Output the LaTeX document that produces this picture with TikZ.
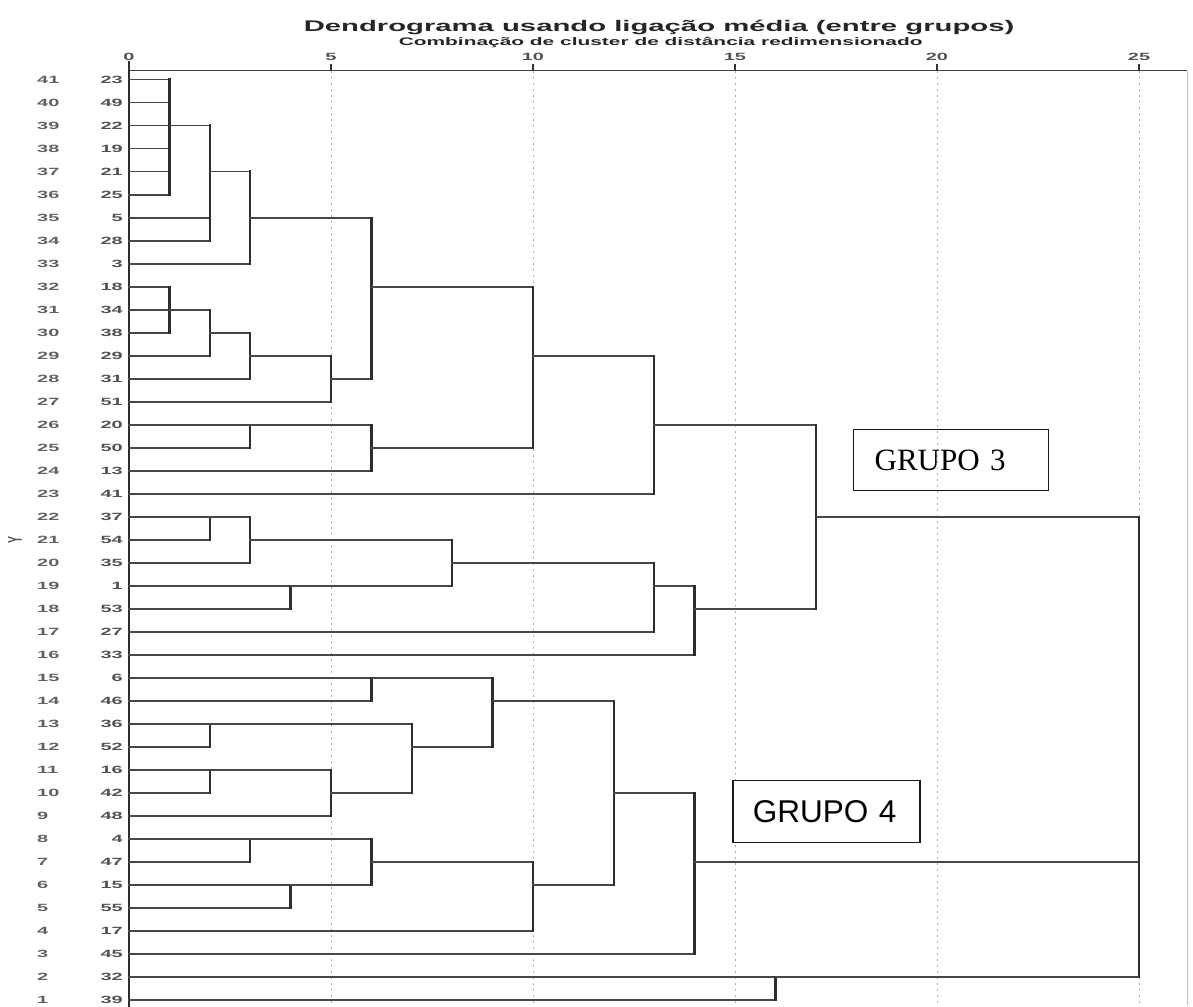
\documentclass[tikz,border=0pt]{standalone}
\usepackage{fontspec}
\newfontfamily\spssfont[FakeStretch=1.9]{Liberation Sans}
\newfontfamily\plainsans{Liberation Sans}
\newfontfamily\plainserif{Liberation Serif}
\newcommand\dmerge[6]{%
  \coordinate (#1) at (#2,#3);
  \foreach \ch in {#4} {\draw[hl] (\ch) -- (\ch -| #1);}
  \draw[vl] (#5 -| #1) -- (#6 -| #1);
}
\tikzset{
  hl/.style={line width=1.7pt, draw=black!72, line cap=rect},
  vl/.style={line width=2.3pt, draw=black!82, line cap=rect},
  smalllab/.style={font=\spssfont\bfseries\fontsize{10.5}{12}\selectfont, text=black!68, inner sep=0pt},
  gridline/.style={line width=0.9pt, draw=black!30, dash pattern=on 2pt off 4pt},
  tickline/.style={line width=2pt, draw=black!80},
  axisline/.style={line width=1.5pt, draw=black!75},
  grupobox/.style={draw=black!90, line width=1.4pt, align=left, inner ysep=0pt}
}
\begin{document}
\begin{tikzpicture}[x=40.4pt, y=23.01pt]
\fill[white] (-3.193,0.739) rectangle (26.337,44.46);
\useasboundingbox (-3.193,0.739) rectangle (26.337,44.46);
% title
\node[font=\spssfont\bfseries\fontsize{15.4}{18}\selectfont, text=black!85, anchor=base, inner sep=0pt] (title) at (13.12,43.11) {Dendrograma usando ligação média (entre grupos)};
\node[font=\spssfont\bfseries\fontsize{11}{13}\selectfont, text=black!85, anchor=base, inner sep=0pt] (subtitle) at (13.16,42.50) {Combinação de cluster de distância redimensionado};
% grid
\foreach \v in {5,10,...,25} {\draw[gridline] (\v,41.395) -- (\v,0.739);}
% frame right
\draw[line width=0.9pt, draw=black!25] (26.19,41.395) -- (26.19,0.739);
% axis
\draw[axisline] (0,41.395) -- (26.19,41.395);
\foreach \v in {0,5,...,25} {
  \draw[tickline] (\v,41.395) -- (\v,41.68);
  \node[smalllab, anchor=base] (tk\v) at (\v,41.82) {\v};
}
% baseline
\draw[vl] (0,41.77) -- (0,0.739);
% leaves
\foreach \r/\lab in {41/23,40/49,39/22,38/19,37/21,36/25,35/5,34/28,33/3,32/18,31/34,30/38,29/29,28/31,27/51,26/20,25/50,24/13,23/41,22/37,21/54,20/35,19/1,18/53,17/27,16/33,15/6,14/46,13/36,12/52,11/16,10/42,9/48,8/4,7/47,6/15,5/55,4/17,3/45,2/32,1/39} {
  \coordinate (L\r) at (0,\r);
  \node[smalllab, anchor=east] (t\r) at (-0.15,\r) {\lab};
  \node[smalllab, anchor=west, text=black!62] (n\r) at (-2.277,\r) {\r};
}
\node[inner sep=0pt, text=black!65] (ylab) at (-2.82,20.99) {\scalebox{1.9}[1]{\rotatebox{90}{\plainsans\bfseries\fontsize{10.5}{12}\selectfont Y}}};
% clusters
\dmerge{a1}{1}{39}{L41,L40,L39,L38,L37,L36}{L41}{L36}
\dmerge{a2}{2}{37}{a1,L35,L34}{a1}{L34}
\dmerge{a3}{3}{35}{a2,L33}{a2}{L33}
\dmerge{b1}{1}{31}{L32,L31,L30}{L32}{L30}
\dmerge{b2}{2}{30}{b1,L29}{b1}{L29}
\dmerge{b3}{3}{29}{b2,L28}{b2}{L28}
\dmerge{b4}{5}{28}{b3,L27}{b3}{L27}
\dmerge{ab}{6}{32}{a3,b4}{a3}{b4}
\dmerge{c1}{3}{26}{L26,L25}{L26}{L25}
\dmerge{c2}{6}{25}{c1,L24}{c1}{L24}
\dmerge{abc}{10}{29}{ab,c2}{ab}{c2}
\dmerge{g3}{13}{26}{abc,L23}{abc}{L23}
\dmerge{d1}{2}{22}{L22,L21}{L22}{L21}
\dmerge{d2}{3}{21}{d1,L20}{d1}{L20}
\dmerge{d3}{4}{19}{L19,L18}{L19}{L18}
\dmerge{d4}{8}{20}{d2,d3}{d2}{d3}
\dmerge{d5}{13}{19}{d4,L17}{d4}{L17}
\dmerge{d6}{14}{18}{d5,L16}{d5}{L16}
\dmerge{G3}{17}{22}{g3,d6}{g3}{d6}
\dmerge{e1}{6}{15}{L15,L14}{L15}{L14}
\dmerge{e2}{2}{13}{L13,L12}{L13}{L12}
\dmerge{e3}{2}{11}{L11,L10}{L11}{L10}
\dmerge{e4}{5}{10}{e3,L9}{e3}{L9}
\dmerge{e5}{7}{12}{e2,e4}{e2}{e4}
\dmerge{e6}{9}{14}{e1,e5}{e1}{e5}
\dmerge{f1}{3}{8}{L8,L7}{L8}{L7}
\dmerge{f2}{4}{6}{L6,L5}{L6}{L5}
\dmerge{f3}{6}{7}{f1,f2}{f1}{f2}
\dmerge{f4}{10}{6}{f3,L4}{f3}{L4}
\dmerge{ef}{12}{10}{e6,f4}{e6}{f4}
\dmerge{G4}{14}{7}{ef,L3}{ef}{L3}
\dmerge{h1}{16}{2}{L2,L1}{L2}{L1}
\dmerge{root}{25}{7}{G3,G4,h1}{G3}{h1}
% group boxes
\node[grupobox, anchor=north west, font=\plainserif\fontsize{31}{34}\selectfont, text width=153pt, inner xsep=21pt, minimum height=61pt] (grupo3) at (17.92,25.815) {GRUPO 3};
\node[grupobox, anchor=north west, font=\plainsans\fontsize{31.5}{34}\selectfont, text width=147pt, inner xsep=20pt, minimum height=62pt, fill=white] (grupo4) at (14.93,10.561) {GRUPO 4};
\end{tikzpicture}
\end{document}
